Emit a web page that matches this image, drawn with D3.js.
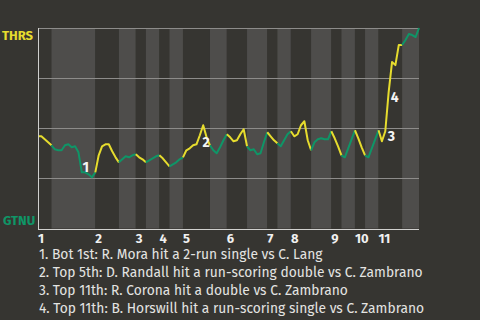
<!DOCTYPE html>
<html>
<head>
<meta charset="utf-8">
<script src="https://cdn.jsdelivr.net/npm/d3@7"></script>
<style>
    body { margin: 0; background: #363531; }
    svg { display: block; }
</style>
</head>
<body>
<div id="chart"></div>
<script>
// team labels: top = away win, bottom = home win
var teams = ['THRS', 'GTNU'];
// plays in each half inning (top 1st, bot 1st, top 2nd ...)
var halfInningPlays = [4, 13, 7, 5, 3, 4, 3, 4, 8, 5, 6, 6, 3, 4, 6, 6, 3, 4, 3, 4, 7, 5];
var innings = ['1', '2', '3', '4', '5', '6', '7', '8', '9', '10', '11'];
// THRS win probability after each play
var winProb = [
    .46, .46, .445, .43, .415, .395, .39, .39, .415, .42,
    .405, .41, .38, .28, .28, .27, .255, .28, .365, .41,
    .42, .42, .385, .355, .33, .345, .36, .355, .365, .37,
    .355, .345, .33, .34, .35, .36, .365, .35, .33, .31,
    .32, .33, .345, .355, .39, .40, .415, .42, .465, .515,
    .455, .415, .39, .375, .405, .44, .47, .455, .435, .44,
    .47, .495, .41, .39, .395, .37, .375, .43, .48, .46,
    .44, .425, .41, .44, .47, .485, .46, .47, .515, .535,
    .44, .39, .43, .445, .45, .445, .445, .485, .45, .41,
    .365, .355, .40, .445, .49, .45, .405, .365, .355, .40,
    .445, .49, .435, .485, .68, .83, .815, .915, .915, .94,
    .97, .965, .955, 1.0
];
var eventPlays = [13, 49, 103, 104];
var eventTexts = [
    '1. Bot 1st: R. Mora hit a 2-run single vs C. Lang',
    '2. Top 5th: D. Randall hit a run-scoring double vs C. Zambrano',
    '3. Top 11th: R. Corona hit a double vs C. Zambrano',
    '4. Top 11th: B. Horswill hit a run-scoring single vs C. Zambrano'
];
var gridValues = [1, .75, .5, .25];

var width = 480, height = 320;
var margin = { left: 38, right: 61, top: 28, bottom: 91 };
var yellow = '#e6dc2e', green = '#0f9567';
var font = '"Fira Sans", "Open Sans", "Noto Sans", sans-serif';

var svg = d3.select('#chart').append('svg')
    .attr('width', width)
    .attr('height', height)
    .style('background', '#363531');

var nPlays = d3.sum(halfInningPlays);
var x = d3.scaleLinear().domain([0, nPlays]).range([margin.left, width - margin.right]);
var y = d3.scaleLinear().domain([0, 1]).range([height - margin.bottom - 0.5, margin.top]);

// half inning boundaries
var bounds = [0];
halfInningPlays.forEach(function(n, i) { bounds.push(bounds[i] + n) });

// stripes
svg.append('g').selectAll('rect')
    .data(halfInningPlays)
    .enter().append('rect')
    .attr('x', function(d, i) { return x(bounds[i]) })
    .attr('width', function(d, i) { return x(bounds[i + 1]) - x(bounds[i]) })
    .attr('y', margin.top)
    .attr('height', y(0) - margin.top)
    .attr('fill', function(d, i) { return i % 2 ? '#4e4d4b' : '#363531' });

// gridlines
svg.append('g').selectAll('line')
    .data(gridValues)
    .enter().append('line')
    .attr('x1', x(0)).attr('x2', x(nPlays))
    .attr('y1', function(d) { return Math.round(y(d)) + 0.5 })
    .attr('y2', function(d) { return Math.round(y(d)) + 0.5 })
    .attr('stroke', '#8d8c8a')
    .attr('stroke-width', 1);

// win probability line, coloured per half inning
var line = d3.line()
    .x(function(d) { return x(d) })
    .y(function(d) { return y(winProb[d]) });

svg.append('g').selectAll('path')
    .data(halfInningPlays)
    .enter().append('path')
    .attr('d', function(d, i) { return line(d3.range(bounds[i], bounds[i + 1] + 1)) })
    .attr('fill', 'none')
    .attr('stroke', function(d, i) { return i % 2 ? green : yellow })
    .attr('stroke-width', 2)
    .attr('stroke-linejoin', 'round');

// axes lines
svg.append('line')
    .attr('x1', x(0) + 0.5).attr('x2', x(0) + 0.5)
    .attr('y1', margin.top).attr('y2', y(0) + 1)
    .attr('stroke', '#d0d0ce').attr('stroke-width', 1);
svg.append('line')
    .attr('x1', x(0)).attr('x2', x(nPlays))
    .attr('y1', y(0) + 1).attr('y2', y(0) + 1)
    .attr('stroke', '#d0d0ce').attr('stroke-width', 1);

// inning labels
svg.append('g').selectAll('text')
    .data(innings)
    .enter().append('text')
    .attr('x', function(d, i) { return x(bounds[i * 2]) })
    .attr('y', 243)
    .attr('fill', '#f0f0f0')
    .style('font', 'bold 13px ' + font)
    .text(function(d) { return d });

// team labels
svg.append('text')
    .attr('x', 2).attr('y', 40)
    .attr('fill', yellow)
    .style('font', 'bold 13px ' + font)
    .text(teams[0]);
svg.append('text')
    .attr('x', 3).attr('y', 225)
    .attr('fill', green)
    .style('font', 'bold 13px ' + font)
    .text(teams[1]);

// event markers
var markerOffsets = [[4, 0], [3, 22], [6, 10], [6, 10]];
svg.append('g').selectAll('text')
    .data(eventPlays)
    .enter().append('text')
    .attr('x', function(d, i) { return x(d) + markerOffsets[i][0] })
    .attr('y', function(d, i) { return y(winProb[d]) + markerOffsets[i][1] })
    .attr('text-anchor', 'middle')
    .attr('fill', '#f4f4f4')
    .style('font', 'bold 14px ' + font)
    .text(function(d, i) { return i + 1 });

// event descriptions
svg.append('g').selectAll('text')
    .data(eventTexts)
    .enter().append('text')
    .attr('x', 39)
    .attr('y', function(d, i) { return 259 + i * 18 })
    .attr('fill', '#e4e4e2')
    .style('font', '13.8px ' + font)
    .text(function(d) { return d });
</script>
</body>
</html>
